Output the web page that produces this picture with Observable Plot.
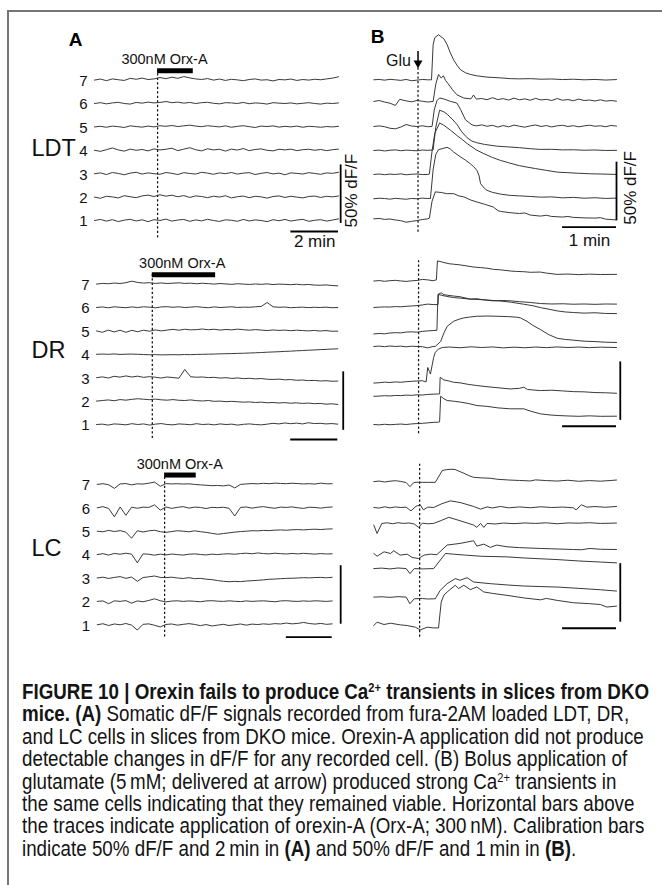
<!DOCTYPE html>
<html><head><meta charset="utf-8">
<script src="https://cdn.jsdelivr.net/npm/d3@7"></script>
<script src="https://cdn.jsdelivr.net/npm/@observablehq/plot@0.6"></script>
<style>
body{margin:0;background:#fff;}
#fig{position:relative;width:662px;height:885px;overflow:hidden;background:#fff;}
#frame{position:absolute;left:7px;top:10px;width:700px;height:900px;border-left:2px solid #767676;border-top:2px solid #767676;}
#fig svg{position:absolute;overflow:visible;}
</style></head><body><div id="fig"><div id="frame"></div></div>
<script>
// ---------------- DATA ----------------
const cells = [1,2,3,4,5,6,7];
// time grid of the orexin recordings (min)
const tA = [0,0.25,0.5,0.75,1,1.25,1.5,1.75,2,2.25,2.5,2.75,3,3.25,3.5,3.75,4,4.25,4.5,4.75,5,5.25,5.5,5.75,6,6.25,6.5,6.75,7,7.25,7.5,7.75,8,8.25,8.5,8.75,9,9.25,9.5,9.75,10,10.25];
// (A) dF/F (%) per cell 1..7, orexin application
const ldtA = [
 [0,0.9,-0.5,0.7,-0.9,0.3,1.0,-0.4,0.6,-1.0,0.7,0,1.2,-0.5,0.4,0.9,-0.7,0.5,-0.3,1.0,0,-0.8,0.6,0.2,-0.7,0.9,-0.4,0.5,0,-1.0,0.7,-0.2,0.9,-0.5,0.4,1.0,-0.7,0.2,0.7,-0.5,0.4,1.4],
 [0,-1.0,0.7,0.2,-0.7,1.2,0.3,-0.5,1.0,1.7,0.5,2.0,0.8,1.6,0.3,1.3,-0.3,1.0,0.5,-0.5,0.8,0,1.2,-0.7,0.3,0.9,-0.5,0.7,0.2,-0.9,0.5,1.0,-0.3,0.7,0,-0.7,0.5,0.9,-0.3,0.7,0.2,1.0],
 [0,0.7,-0.7,1.0,0.2,-0.9,0.5,1.2,-0.3,0.7,0,-0.5,1.0,0.3,-0.7,0.9,0.2,-0.3,1.2,0.5,-0.5,0.7,0,1.0,-0.3,0.5,0.9,-0.7,0.3,1.0,-0.2,0.5,-0.9,0.7,0.3,-0.3,0.9,0.2,-0.5,0.7,0.3,1.2],
 [0,-0.9,0.5,2.0,0.3,-0.7,1.0,0,0.7,-0.5,1.2,0.3,0.9,1.8,-0.3,1.0,2.2,0.5,-0.5,1.3,0.3,0.9,-0.7,1.0,0.2,1.5,-0.3,0.7,1.2,0,-0.5,0.9,0.3,1.0,-0.3,0.5,0.9,0,0.7,-0.3,0.5,1.0],
 [0,0.5,-0.3,0.7,0.2,-0.5,0.9,0.3,-0.2,0.7,0,1.0,0.5,1.2,0.3,0.9,1.5,0.7,0.2,1.0,0.5,0,0.9,-0.3,0.5,1.0,0.2,-0.5,0.7,0.3,0.9,-0.2,0.5,0,0.7,-0.3,0.5,0.2,-0.3,0.3,0,0.5],
 [0,0.7,-0.3,0.5,1.0,0,-0.5,0.9,0.3,1.2,0.5,0.9,1.7,0.7,1.2,0.3,0.9,0,0.7,1.0,0.2,-0.3,0.7,0.5,0,0.9,-0.2,0.5,0.2,-0.5,0.7,0.3,0,0.5,-0.3,0.2,0.7,0,-0.5,0.3,0,0.5],
 [0,0.9,-0.5,1.0,0.3,-0.3,1.5,0.7,1.7,0.5,1.0,2.2,1.2,2.5,1.5,3.0,1.9,1.0,0.5,1.3,0,0.9,-0.3,0.7,0.2,-0.5,0.5,1.0,0,0.3,-0.7,0.5,0.2,0.9,-0.3,0.5,0,0.7,0.3,1.0,1.7,2.8]
];
const drA = [
 [0,0.3,-0.5,0.5,0.2,-0.3,0.7,0,0.5,-0.5,0.3,0.8,0,-0.3,0.5,0.2,-0.2,0.7,0,0.3,-0.3,0.5,0,0.3,-0.5,0.2,0.5,0,-0.3,0.3,1.0,0.5,1.3,0.7,1.2,0.5,1.5,0.8,1.0,0.5,0.8,0.3],
 [0,0.5,1.0,0.3,1.3,0.8,1.5,2.0,1.6,1.2,1.7,1.1,0.8,1.3,0.7,0.5,1.0,0.4,0.1,0.5,-0.2,0,-0.5,-0.2,-0.6,-0.9,-0.7,-1.2,-0.9,-1.4,-1.2,-1.6,-1.3,-1.8,-1.5,-2.0,-1.7,-2.2,-2.0,-2.6,-2.3,-2.9],
 [0,0.7,-0.3,1.2,0.5,1.5,0.6,1.3,0.3,0.9,0.4,-0.3,0.6,0.1,-0.4,7.0,0.8,0.4,0.6,0.1,0.3,-0.3,0,-0.6,-0.2,-0.8,-0.5,-1.0,-0.7,-1.3,-1.5,-1.2,-1.8,-1.6,-2.2,-2.0,-2.5,-2.3,-2.8,-2.6,-3.0,-2.9],
 [0,0.2,0,0.3,-0.1,0.1,0.2,0,-0.2,-0.4,-0.3,-0.5,-0.4,-0.3,-0.4,-0.2,-0.3,-0.1,0,0.1,0.2,0.4,0.5,0.6,0.8,0.9,1.1,1.3,1.5,1.8,2.0,2.2,2.5,2.7,3.0,3.2,3.5,3.7,4.0,4.2,4.5,4.7],
 [0,-1.2,0.7,-0.9,0.6,-1.2,0.5,-0.7,0.6,-0.3,0.9,0,0.7,1.3,0.6,1.4,0.9,1.1,1.6,1.0,1.4,0.7,1.2,0.9,1.5,1.0,0.6,1.1,0.7,0.3,0.8,0.4,0.7,0.2,0.6,0.3,0,0.4,-0.1,0.3,-0.3,-0.2],
 [0,0.5,-0.3,0.6,0.2,-0.2,0.5,0,0.6,0.3,-0.3,0.5,0.7,0.2,0.6,0,0.3,0.7,0.2,-0.2,0.5,0,0.3,0.6,0,0.3,0.2,0.6,0.9,4.3,0.6,0.2,0.4,-0.2,0.1,0.3,-0.1,0.2,0,0.3,-0.2,0],
 [0,0.6,0.3,0.9,0.5,1.2,2.5,1.4,0.9,1.2,0.6,1.0,0.5,0.8,1.1,0.6,0.8,0.3,0.7,0.4,0,0.5,0.1,-0.2,0.3,0,-0.3,0.1,-0.2,0.2,-0.4,0,-0.2,-0.5,-0.1,-0.6,-0.3,-0.8,-1.0,-0.7,-1.2,-1.5]
];
const lcA = [
 [0,0.9,-0.6,0.7,0,1.1,-0.3,-4.5,0.4,0.8,-0.4,-1.8,0.3,0.7,-0.3,0.4,1.0,0.3,-0.7,0.2,-1.0,-0.3,0.4,-0.6,0,0.7,-0.3,0.6,0.2,0.8,0.4,1.0,0.7,1.5,0.8,1.2,2.0,1.1,0.6,1.2,0.4,0.8],
 [0,0.4,-2.0,0.5,0,0.7,-1.5,0.4,-0.3,0.8,2.2,0.6,-0.4,0.3,0.5,0,0.4,0.1,-0.3,0.4,0.6,0.2,0,0.5,0.1,-0.2,0.4,0,0.3,0.5,0.1,-0.3,0.4,0.6,0.2,0,0.4,0.1,0.5,0.3,0,0.4],
 [0,0.7,-0.4,0.5,1.2,-0.3,0.8,-2.8,0.4,1.0,1.7,0.5,0.3,0.7,0,-0.4,0.3,-0.6,-0.3,-1.0,-1.4,-2.2,-2.8,-3.2,-2.9,-3.1,-2.6,-2.3,-2.0,-1.6,-1.1,-0.9,-0.6,-0.3,-0.2,0,0.3,0.1,0.4,0.5,0.2,0.6],
 [0,0.8,-0.4,1.0,0.3,1.2,0.4,-7.0,0.6,0.3,-0.5,0.4,-0.3,0.5,0,-0.4,0.3,0.6,0.1,-0.3,0.4,0,0.5,0.7,0.3,0.9,1.2,0.7,1.4,0.9,0.6,1.2,0.8,0.5,1.0,0.6,1.1,0.7,0.4,0.9,0.5,0.7],
 [0,-0.5,0.7,-0.3,0.5,-0.8,-6.0,0.4,-0.7,0.3,0.8,-0.4,-1.0,-0.3,0.4,0,-0.5,0.3,-0.4,-1.0,-1.8,-2.6,-2.0,-1.4,-0.8,-0.3,0,0.4,0.3,0.7,0.5,0.9,1.1,0.8,1.2,1.4,1.1,1.5,1.7,1.4,1.8,2.0],
 [0,1.0,-0.6,-7.7,0.7,-6.4,0.5,-0.4,0.6,0.3,2.5,-2.0,0.7,-0.5,0.4,1.0,-0.3,0.6,0.3,-0.6,0.4,0.1,0.5,-0.4,-7.0,0.3,0.7,-0.3,0.5,1.0,0.2,-0.4,0.6,0.3,0.8,0,-0.5,0.5,0.3,-0.3,0.4,0.7],
 [0,0.6,-0.3,-3.4,0.4,0.7,-0.4,0.5,0.3,1.0,2.0,-1.6,0.7,0.4,0.6,0.3,0.5,0,-0.4,-0.7,-1.1,-0.9,-1.3,-0.5,-3.0,0,0.4,0.7,0.5,0.9,0.6,1.1,0.8,0.6,1.0,0.7,0.4,0.6,0.3,1.1,0.5,0.6]
];
// (B) glutamate responses: [time (min), dF/F (%)] per cell 1..7, plus baseline level of each trace (%)
const ldtB = [
 [[0,0],[0.1,0.3],[0.2,-0.5],[0.3,-0.2],[0.4,-1.0],[0.5,-1.6],[0.6,-2.9],[0.7,-2.2],[0.8,-1.5],[0.9,-0.6],[1.0,0],[1.03,0.5],[1.08,15],[1.14,23],[1.25,22.5],[1.35,21.5],[1.48,21.5],[1.58,19.5],[1.67,18.7],[1.8,16],[1.91,14.4],[2.05,12.5],[2.22,10],[2.3,7],[2.35,6.3],[2.53,5.2],[2.7,4.5],[2.8,5.0],[2.9,3.2],[3.09,2.3],[3.2,3.0],[3.3,2.0],[3.5,1.5],[3.6,2.0],[3.7,1.2],[3.9,0.8],[4.1,0.6],[4.2,1.0],[4.3,-0.3],[4.5,-1.0]],
 [[0,0],[0.1,0.5],[0.2,0.2],[0.3,-0.3],[0.4,0.4],[0.5,0],[0.6,-0.4],[0.7,0.3],[0.8,0],[0.9,0.6],[1.0,0.2],[1.05,0.3],[1.1,25],[1.15,38],[1.2,42],[1.28,43],[1.36,44],[1.42,42.5],[1.48,40],[1.6,36],[1.7,33],[1.79,30],[1.85,27.5],[1.91,24.4],[1.95,20],[1.98,12.9],[2.05,9],[2.1,7.2],[2.2,5.5],[2.35,4],[2.53,2.9],[2.7,2.5],[2.9,2.0],[3.09,1.4],[3.3,1.6],[3.5,0.8],[3.7,1.2],[3.9,0.5],[4.1,0.9],[4.3,0.3],[4.5,0.6]],
 [[0,0],[0.1,0.4],[0.2,-0.2],[0.3,0.3],[0.4,0],[0.5,0.5],[0.6,-0.3],[0.7,0.2],[0.8,0.4],[0.9,-0.1],[1.0,0],[1.03,0.3],[1.08,20],[1.13,35],[1.22,44],[1.3,42],[1.42,37.9],[1.55,33],[1.65,29.5],[1.73,26.4],[1.9,21],[2.04,17.8],[2.2,14.5],[2.35,12],[2.5,10],[2.7,7.5],[2.84,6.3],[3.0,5],[3.2,3.5],[3.4,2],[3.6,1.5],[3.8,1.0],[4.0,0.6],[4.2,0.4],[4.5,0]],
 [[0,0],[0.1,0.3],[0.2,-0.4],[0.3,0.2],[0.4,0.5],[0.5,-0.2],[0.6,0.3],[0.7,0],[0.8,-0.3],[0.9,0.4],[1.0,0.1],[1.1,0.5],[1.15,20],[1.22,34.4],[1.3,33],[1.36,31],[1.45,27],[1.54,22.4],[1.63,16],[1.73,10.9],[1.82,8],[1.91,6.6],[2.05,5.2],[2.28,3.7],[2.5,3.0],[2.7,2.4],[2.9,1.5],[3.09,0.9],[3.3,1.0],[3.5,0.5],[3.7,0.6],[3.9,0.2],[4.1,0.4],[4.3,0],[4.5,0.1]],
 [[0,0],[0.1,0.5],[0.2,-0.2],[0.3,-1.5],[0.4,-2.0],[0.5,-0.5],[0.6,1.7],[0.7,0.4],[0.8,0],[0.9,0.6],[1.0,-0.2],[1.08,0],[1.12,14],[1.17,22],[1.22,24.4],[1.3,23.5],[1.42,21.5],[1.54,20],[1.61,14.4],[1.7,5.7],[1.82,1.4],[1.9,0.5],[2.0,1.4],[2.1,0.2],[2.2,1.0],[2.3,-0.5],[2.4,0.8],[2.5,-0.3],[2.6,1.2],[2.7,0.2],[2.8,-0.6],[2.9,0.5],[3.0,1.3],[3.1,0],[3.2,0.8],[3.3,-0.4],[3.4,0.6],[3.5,1.0],[3.6,0],[3.7,0.7],[3.8,-0.3],[3.9,0.5],[4.0,1.1],[4.1,0.2],[4.2,0.6],[4.3,-0.2],[4.4,0.9],[4.5,0.3]],
 [[0,0],[0.1,0.8],[0.2,-0.5],[0.3,-1.5],[0.4,-3.4],[0.48,1.8],[0.6,0.5],[0.7,-0.3],[0.8,0.8],[0.9,0.2],[1.0,-0.5],[1.1,0],[1.15,15],[1.2,23],[1.25,20],[1.29,22],[1.33,18],[1.38,15],[1.46,10],[1.54,5.7],[1.67,2.9],[1.8,2.2],[1.85,5.5],[1.9,2.0],[2.0,2.5],[2.1,1.5],[2.2,3.2],[2.3,1.6],[2.4,2.4],[2.5,1.2],[2.6,2.8],[2.7,1.4],[2.8,2.2],[2.9,1.0],[3.0,2.6],[3.1,1.3],[3.2,1.8],[3.3,0.8],[3.4,2.5],[3.5,1.0],[3.6,1.6],[3.7,0.6],[3.8,2.0],[3.9,0.8],[4.0,1.2],[4.1,0.4],[4.2,1.4],[4.3,0.3],[4.4,0.8],[4.5,0.2]],
 [[0,0],[0.1,0.3],[0.2,-0.3],[0.3,0.4],[0.4,0],[0.5,-0.5],[0.6,0.3],[0.7,-0.8],[0.8,-0.3],[0.9,0.3],[1.0,0],[1.07,0],[1.1,30],[1.13,36],[1.2,38.5],[1.3,35],[1.36,30],[1.42,23],[1.48,17],[1.55,12],[1.61,8.5],[1.7,6],[1.79,4.6],[1.9,3.5],[2.1,2.3],[2.3,1.8],[2.53,1.0],[2.7,0.8],[2.9,1.0],[3.1,0.5],[3.3,0.7],[3.5,0.2],[3.7,0.5],[3.9,0],[4.1,0.3],[4.3,-0.2],[4.5,0.2]]
];
const ldtBBase = [0.6,-2.3,-1.5,-1,-0.5,0.9,-0.6];
const drB = [
 [[0,0],[0.1,-0.3],[0.2,0.2],[0.3,-0.2],[0.4,0.1],[0.5,0.4],[0.6,0],[0.7,0.5],[0.8,0.8],[0.9,1.0],[1.0,1.4],[1.1,1.8],[1.2,2.0],[1.22,2.2],[1.24,24.2],[1.3,22],[1.36,20.5],[1.5,19.8],[1.61,19.1],[1.75,18],[1.91,16.2],[2.1,15.5],[2.3,14.2],[2.53,13.4],[2.78,13.4],[2.9,11.5],[3.09,9.1],[3.25,8.2],[3.4,7.7],[3.6,7.3],[3.8,7.0],[4.0,7.4],[4.2,7.0],[4.5,7.1]],
 [[0,0],[0.1,0.2],[0.2,0.5],[0.3,0.3],[0.4,0.7],[0.5,0.6],[0.6,1.0],[0.7,0.8],[0.8,1.3],[0.9,1.1],[1.0,1.6],[1.1,1.8],[1.2,2.0],[1.22,2],[1.23,16.2],[1.3,14],[1.4,13],[1.48,12],[1.6,11.5],[1.75,10.2],[1.91,9.2],[2.1,8.2],[2.3,7.3],[2.53,6.3],[2.7,6.8],[2.78,7.8],[2.85,5.8],[3.09,4.9],[3.3,5.2],[3.5,4.6],[3.7,4.0],[3.9,3.8],[4.1,3.2],[4.3,3.0],[4.5,2.6]],
 [[0,0],[0.1,0.3],[0.2,0.8],[0.3,0.5],[0.4,1.0],[0.5,0.7],[0.6,1.2],[0.7,1.5],[0.8,1.8],[0.9,2.0],[0.97,1.0],[1.0,13.3],[1.03,10],[1.05,7.7],[1.11,21.9],[1.14,26.2],[1.2,29.1],[1.27,30.4],[1.4,30.8],[1.6,30.2],[1.8,31],[2.0,30.4],[2.2,30.9],[2.4,30.1],[2.6,30.7],[2.8,30.2],[3.0,30.8],[3.2,30.3],[3.4,30.9],[3.6,30.4],[3.8,30.8],[4.0,30.3],[4.2,30.7],[4.5,30.4]],
 [[0,0],[0.1,0.3],[0.2,-0.2],[0.3,0.4],[0.4,0],[0.5,0.3],[0.6,-0.3],[0.7,0.2],[0.8,0],[0.9,-0.2],[1.0,-1.2],[1.1,0],[1.14,0],[1.24,4.3],[1.3,11.5],[1.36,17.2],[1.48,21.5],[1.58,23.3],[1.67,24.4],[1.8,25.3],[1.91,25.8],[2.1,26],[2.3,25.8],[2.5,25.5],[2.65,25],[2.72,24.4],[2.84,21.5],[2.95,18],[3.09,14.4],[3.25,10],[3.4,7.0],[3.55,6.0],[3.7,5.4],[3.9,4.5],[4.1,4.2],[4.3,3.6],[4.5,3.4]],
 [[0,-2.6],[0.1,-2.2],[0.2,-2.5],[0.3,-1.8],[0.4,-1.5],[0.5,-1.7],[0.6,-1.0],[0.7,-0.8],[0.8,-1.1],[0.9,-0.4],[1.0,0],[1.1,0.3],[1.17,0.5],[1.19,31.3],[1.25,30.5],[1.35,29.5],[1.48,28.5],[1.6,28],[1.79,27.1],[1.95,26.8],[2.16,26.2],[2.35,25.5],[2.55,24.5],[2.78,22.8],[2.95,21.5],[3.09,19.9],[3.25,18.5],[3.4,17.1],[3.55,16.2],[3.7,15.7],[3.9,15.2],[4.1,15.5],[4.3,14.9],[4.5,14.8]],
 [[0,0],[0.1,0.3],[0.2,0.5],[0.3,0.4],[0.4,0.8],[0.5,0.6],[0.6,1.0],[0.7,1.3],[0.8,1.6],[0.9,2.2],[1.0,2.9],[1.1,2.5],[1.19,2.5],[1.2,11.5],[1.25,12.5],[1.3,11],[1.36,10.5],[1.48,9.8],[1.6,9.2],[1.79,7.2],[1.91,7.5],[2.0,6.8],[2.2,5.7],[2.4,6.0],[2.53,5.7],[2.7,5.0],[2.9,4.3],[3.09,3.4],[3.3,3.0],[3.5,3.2],[3.7,2.8],[3.9,3.0],[4.1,2.7],[4.3,3.0],[4.5,2.9]],
 [[0,0],[0.1,0.4],[0.2,-0.2],[0.3,0.3],[0.4,0.6],[0.5,0.1],[0.6,-0.3],[0.7,0.2],[0.8,0.5],[0.9,1.4],[1.0,1.0],[1.1,0.3],[1.16,1.0],[1.18,17.2],[1.25,16.5],[1.3,15.8],[1.4,14.8],[1.48,14.4],[1.6,13.8],[1.73,12.9],[1.85,12],[1.98,11.5],[2.1,11],[2.22,10],[2.35,9.6],[2.53,8.6],[2.65,8.2],[2.78,8],[2.9,7.5],[3.09,7.7],[3.2,6.8],[3.4,5.7],[3.6,6.0],[3.8,5.5],[4.0,5.9],[4.2,5.6],[4.5,5.7]]
];
const drBBase = [0,4.1,-4.6,6.7,0,0,2.6];
const lcB = [
 [[0,0],[0.06,2.9],[0.19,0.9],[0.31,2.0],[0.49,0.6],[0.62,0],[0.77,-1.4],[0.86,-3.7],[0.99,-1.4],[1.1,-2.0],[1.2,-2.0],[1.25,20],[1.3,26],[1.36,28.7],[1.51,34.4],[1.57,31.6],[1.67,34.4],[1.79,30.7],[1.91,33],[2.04,28.7],[2.2,27.5],[2.47,25.8],[2.8,23.5],[3.09,22],[3.2,23.2],[3.4,21.5],[3.7,19.5],[4.0,18.7],[4.2,18],[4.32,15.8],[4.5,16.6]],
 [[0,0],[0.15,0.3],[0.3,-0.2],[0.45,0.4],[0.6,0],[0.67,-5.7],[0.75,-1.4],[0.9,-1.2],[1.0,-1.6],[1.14,-1.4],[1.23,5.7],[1.36,11.5],[1.51,15.8],[1.6,14.4],[1.73,16.6],[1.85,12.9],[2.16,11.5],[2.5,10.3],[2.78,9.5],[3.1,9.0],[3.4,8.6],[3.8,7.5],[4.2,6.3],[4.5,5.2]],
 [[0,0],[0.15,0.4],[0.3,-0.3],[0.45,0.5],[0.6,0],[0.67,-4.3],[0.75,0],[0.9,-0.3],[1.11,0],[1.33,12.9],[1.48,12.3],[1.7,11.5],[2.0,10.5],[2.47,10],[2.8,9],[3.4,7.7],[3.8,6.5],[4.2,5.6],[4.5,4.9]],
 [[0,0],[0.06,-2.3],[0.19,1.4],[0.31,0],[0.37,2.3],[0.49,-1.4],[0.62,-0.6],[0.71,-3.4],[0.83,-4.3],[0.93,-1.4],[1.05,-0.6],[1.17,-1.0],[1.36,7.2],[1.6,8.6],[1.85,10.9],[1.91,6.3],[2.04,8],[2.16,5.2],[2.28,7.2],[2.47,5.7],[2.7,5.0],[3.09,4.3],[3.3,4.0],[3.7,3.4],[3.85,3.2],[4.01,4.3],[4.2,3.6],[4.5,3.4]],
 [[0,-1.4],[0.06,-8.6],[0.15,0],[0.25,0.5],[0.35,-0.3],[0.45,0.6],[0.55,0],[0.65,0.4],[0.75,-0.5],[0.83,-3.4],[0.9,0.2],[1.0,-0.3],[1.11,0],[1.25,2.5],[1.39,5.2],[1.6,2.3],[1.85,-1.4],[1.91,-3.4],[1.98,0],[2.04,-3.4],[2.1,0],[2.25,-0.5],[2.4,0.3],[2.6,-0.2],[2.8,0.4],[3.0,0],[3.2,0.5],[3.4,-0.3],[3.6,0.4],[3.8,0.2],[4.0,0.6],[4.2,0],[4.5,0.3]],
 [[0,0],[0.1,-0.5],[0.2,0.6],[0.3,-0.3],[0.4,0.5],[0.5,0],[0.6,0.3],[0.69,-2.9],[0.78,1.0],[0.86,2.3],[0.92,-2.0],[1.0,0.3],[1.11,0],[1.25,3.0],[1.42,5.7],[1.6,4.3],[1.85,0.9],[1.98,-1.4],[2.1,0.5],[2.2,-0.4],[2.35,0.9],[2.5,-0.3],[2.7,0.5],[2.9,-0.2],[3.1,0.6],[3.3,0],[3.5,0.4],[3.7,-0.3],[3.75,-2.0],[3.85,2.3],[3.95,0.3],[4.1,0.8],[4.3,0.2],[4.5,0.9]],
 [[0,0],[0.1,0.5],[0.2,-0.3],[0.3,0.4],[0.4,0.8],[0.5,0.2],[0.6,-0.8],[0.67,-4.3],[0.74,-0.8],[0.8,-0.5],[0.9,-0.6],[1.0,-0.6],[1.14,-0.6],[1.27,9.5],[1.35,10.3],[1.45,10.6],[1.51,10.3],[1.6,8.5],[1.67,7.2],[1.76,5.2],[1.85,3.7],[2.0,3.2],[2.16,2.9],[2.3,2.0],[2.5,1.4],[2.7,1.0],[2.9,0.6],[3.0,1.5],[3.2,0.9],[3.4,0.5],[3.6,1.2],[3.8,0.3],[4.0,0.9],[4.2,0.4],[4.4,1.0],[4.5,1.4]]
];
const lcBBase = [-0.9,3.4,7.8,0.7,6.4,0,2.1];
// orexin application (min) and glutamate arrival (min)
const orxStart = [2.65, 2.37, 2.94];
const orxEnd = [4.15, 5.06, 4.32];
const orxLabel = "300nM Orx-A";
const gluTime = [0.82, 0.83, 0.85];
const regions = ["LDT", "DR", "LC"];
const calibPct = 50;      // % dF/F
const calibMinA = 2, calibMinB = 1;  // min

// ---------------- LAYOUT ----------------
const FONT = "'Liberation Sans', Arial, Helvetica, sans-serif";
const PX = 1.17;   // px per % dF/F
const STEP = 20;   // % between stacked cells
const L = [
 {left:0, top:20, width:362, height:230, x0:94, x1:338, tmax:10.25, base:220, stim:[-15,128], orxTc:2.94, regionY:61.5, hbarY:-9.4, vbarT:10.34, vbarY0:-2.5, letter:"A", letterDx:75, letterDy:19, calib:true},
 {left:0, top:250, width:362, height:195, x0:96, x1:337.3, tmax:10.25, base:424, stim:[-12,128], orxTc:3.64, regionY:63, hbarY:-12.8, vbarT:10.48, vbarY0:-5},
 {left:0, top:445, width:362, height:205, x0:96.7, x1:331.7, tmax:10.25, base:624.3, stim:[-10.5,128], orxTc:3.6, regionY:65, hbarY:-10.6, vbarT:10.62, vbarY0:0.5},
 {left:362, top:20, width:300, height:230, x0:373.3, x1:616, tmax:4.5, base:219, stim:[-11,130], hbarY:-6.6, vbarT:4.5, vbarY0:-1, letter:"B", letterDx:15, letterDy:16, calib:true, glu:true},
 {left:362, top:250, width:300, height:195, x0:373.3, x1:616, tmax:4.5, base:424, stim:[-8,140], hbarY:-1.5, vbarT:4.57, vbarY0:3.5},
 {left:362, top:445, width:300, height:205, x0:373.3, x1:616, tmax:4.5, base:624, stim:[-11,137], hbarY:-3.2, vbarT:4.57, vbarY0:2}
];

function rowsA(traces) {
  return traces.flatMap((vals, k) => vals.map((v, i) => ({cell: k + 1, t: tA[i], y: k * STEP + v})));
}
function rowsB(traces, bases) {
  return traces.flatMap((pts, k) => pts.map(([t, v]) => ({cell: k + 1, t, y: k * STEP + bases[k] + v})));
}

function panel(P, s) {
  const y0 = P.base - P.top;
  const ink = "#111";
  const marks = [];
  marks.push(Plot.ruleX([{t: s.stimT, lo: P.stim[0], hi: P.stim[1]}], {x: "t", y1: "lo", y2: "hi", stroke: ink, strokeWidth: 1.25, strokeDasharray: "2.4,2.1"}));
  marks.push(Plot.line(s.rows, {x: "t", y: "y", z: "cell", stroke: "#2e2e2e", strokeWidth: 0.95, strokeLinejoin: "round", strokeLinecap: "round"}));
  if (s.orx) {
    marks.push(Plot.ruleY([s.orx], {y: "y", x1: "t1", x2: "t2", stroke: "#000", strokeWidth: 5}));
    marks.push(Plot.text([s.orx], {x: () => P.orxTc, y: "y", text: "label", dy: -11, fontSize: 14.5, fill: ink}));
    marks.push(Plot.text(cells, {x: () => 0, y: c => (c - 1) * STEP, text: c => String(c), dx: -7, dy: 1, textAnchor: "end", fontSize: 15, fill: ink}));
    marks.push(Plot.text([s.region], {frameAnchor: "left", y: () => P.regionY, text: d => d, dx: 31, textAnchor: "start", fontSize: 23.5, fill: ink}));
  }
  const minutes = s.minutes;
  const hb = {t1: P.tmax - minutes, t2: P.tmax, y: P.hbarY};
  const vb = {t: P.vbarT, y1: P.vbarY0, y2: P.vbarY0 + calibPct};
  marks.push(Plot.ruleY([hb], {y: "y", x1: "t1", x2: "t2", stroke: "#000", strokeWidth: 1.8}));
  marks.push(Plot.ruleX([vb], {x: "t", y1: "y1", y2: "y2", stroke: "#000", strokeWidth: 1.8}));
  if (P.calib) {
    marks.push(Plot.text([hb], {x: d => (d.t1 + d.t2) / 2, y: "y", text: () => `${minutes} min`, dy: P.glu ? 13 : 10, lineAnchor: "middle", fontSize: 17, fill: ink}));
    marks.push(Plot.text([vb], {x: "t", y: d => (d.y1 + d.y2) / 2 + 3, text: () => `${calibPct}% dF/F`, rotate: -90, dx: P.glu ? 14 : 11, fontSize: 17, fill: ink}));
  }
  if (P.letter) {
    marks.push(Plot.text([P.letter], {frameAnchor: "top-left", text: d => d, dx: P.letterDx, dy: P.letterDy, textAnchor: "middle", lineAnchor: "middle", fontSize: 19, fontWeight: "bold", fill: "#000"}));
  }
  if (P.glu) {
    const g = {t: s.stimT};
    marks.push(Plot.ruleX([g], {x: "t", y1: () => 143.5, y2: () => 134.5, stroke: "#000", strokeWidth: 1.5}));
    marks.push(Plot.dot([g], {x: "t", y: () => 133.6, symbol: "triangle", rotate: 180, r: 3.3, fill: "#000", stroke: "none"}));
    marks.push(Plot.text([g], {x: "t", y: () => 135.5, text: () => "Glu", dx: -7, textAnchor: "end", fontSize: 16, fill: ink}));
  }
  const svg = Plot.plot({
    width: P.width, height: P.height, margin: 0,
    x: {domain: [0, P.tmax], range: [P.x0 - P.left, P.x1 - P.left], axis: null},
    y: {domain: [0, 100], range: [y0, y0 - 100 * PX], axis: null},
    style: {fontFamily: FONT, background: "transparent", overflow: "visible"},
    marks
  });
  svg.style.left = P.left + "px";
  svg.style.top = P.top + "px";
  document.getElementById("fig").appendChild(svg);
}

const aSets = [ldtA, drA, lcA];
const bSets = [ldtB, drB, lcB];
const bBases = [ldtBBase, drBBase, lcBBase];
for (let r = 0; r < 3; r++) {
  panel(L[r], {
    rows: rowsA(aSets[r]), stimT: orxStart[r], minutes: calibMinA, region: regions[r],
    orx: {t1: orxStart[r], t2: orxEnd[r], y: 6 * STEP + 8, label: orxLabel}
  });
  panel(L[r + 3], {rows: rowsB(bSets[r], bBases[r]), stimT: gluTime[r], minutes: calibMinB});
}

// ---------------- CAPTION ----------------
const capLines = [
 [{t: "FIGURE 10 | Orexin fails to produce Ca", b: 1}, {t: "2+", b: 1, sup: 1}, {t: " transients in slices from DKO", b: 1}],
 [{t: "mice. (A)", b: 1}, {t: " Somatic dF/F signals recorded from fura-2AM loaded LDT, DR,"}],
 [{t: "and LC cells in slices from DKO mice. Orexin-A application did not produce"}],
 [{t: "detectable changes in dF/F for any recorded cell. (B) Bolus application of"}],
 [{t: "glutamate (5\u2009mM; delivered at arrow) produced strong Ca"}, {t: "2+", sup: 1}, {t: " transients in"}],
 [{t: "the same cells indicating that they remained viable. Horizontal bars above"}],
 [{t: "the traces indicate application of orexin-A (Orx-A; 300\u2009nM). Calibration bars"}],
 [{t: "indicate 50% dF/F and 2\u2009min in "}, {t: "(A)", b: 1}, {t: " and 50% dF/F and 1\u2009min in "}, {t: "(B)", b: 1}, {t: "."}]
];
const cap = d3.select("#fig").append("svg").attr("width", 662).attr("height", 225)
  .style("left", "0px").style("top", "660px");
const capG = cap.append("g");
const capTexts = capLines.map((segs, i) => {
  const tx = capG.append("text").attr("x", 0).attr("y", 39 + 22.4 * i)
    .attr("font-size", 22).attr("font-family", FONT).attr("fill", "#141414");
  let up = false;
  segs.forEach(sg => {
    const ts = tx.append("tspan").text(sg.t);
    if (sg.b) ts.attr("font-weight", "bold");
    if (sg.sup) { ts.attr("font-size", 13).attr("dy", -6.5); up = true; }
    else if (up) { ts.attr("dy", 6.5); up = false; }
  });
  return tx;
});
// condense the caption horizontally so that the 7th line spans the reference width
const natural7 = capTexts[6].node().getComputedTextLength();
const sx = natural7 > 0 ? 623 / natural7 : 0.85;
capG.attr("transform", `translate(22,0) scale(${sx},1)`);
</script></body></html>
